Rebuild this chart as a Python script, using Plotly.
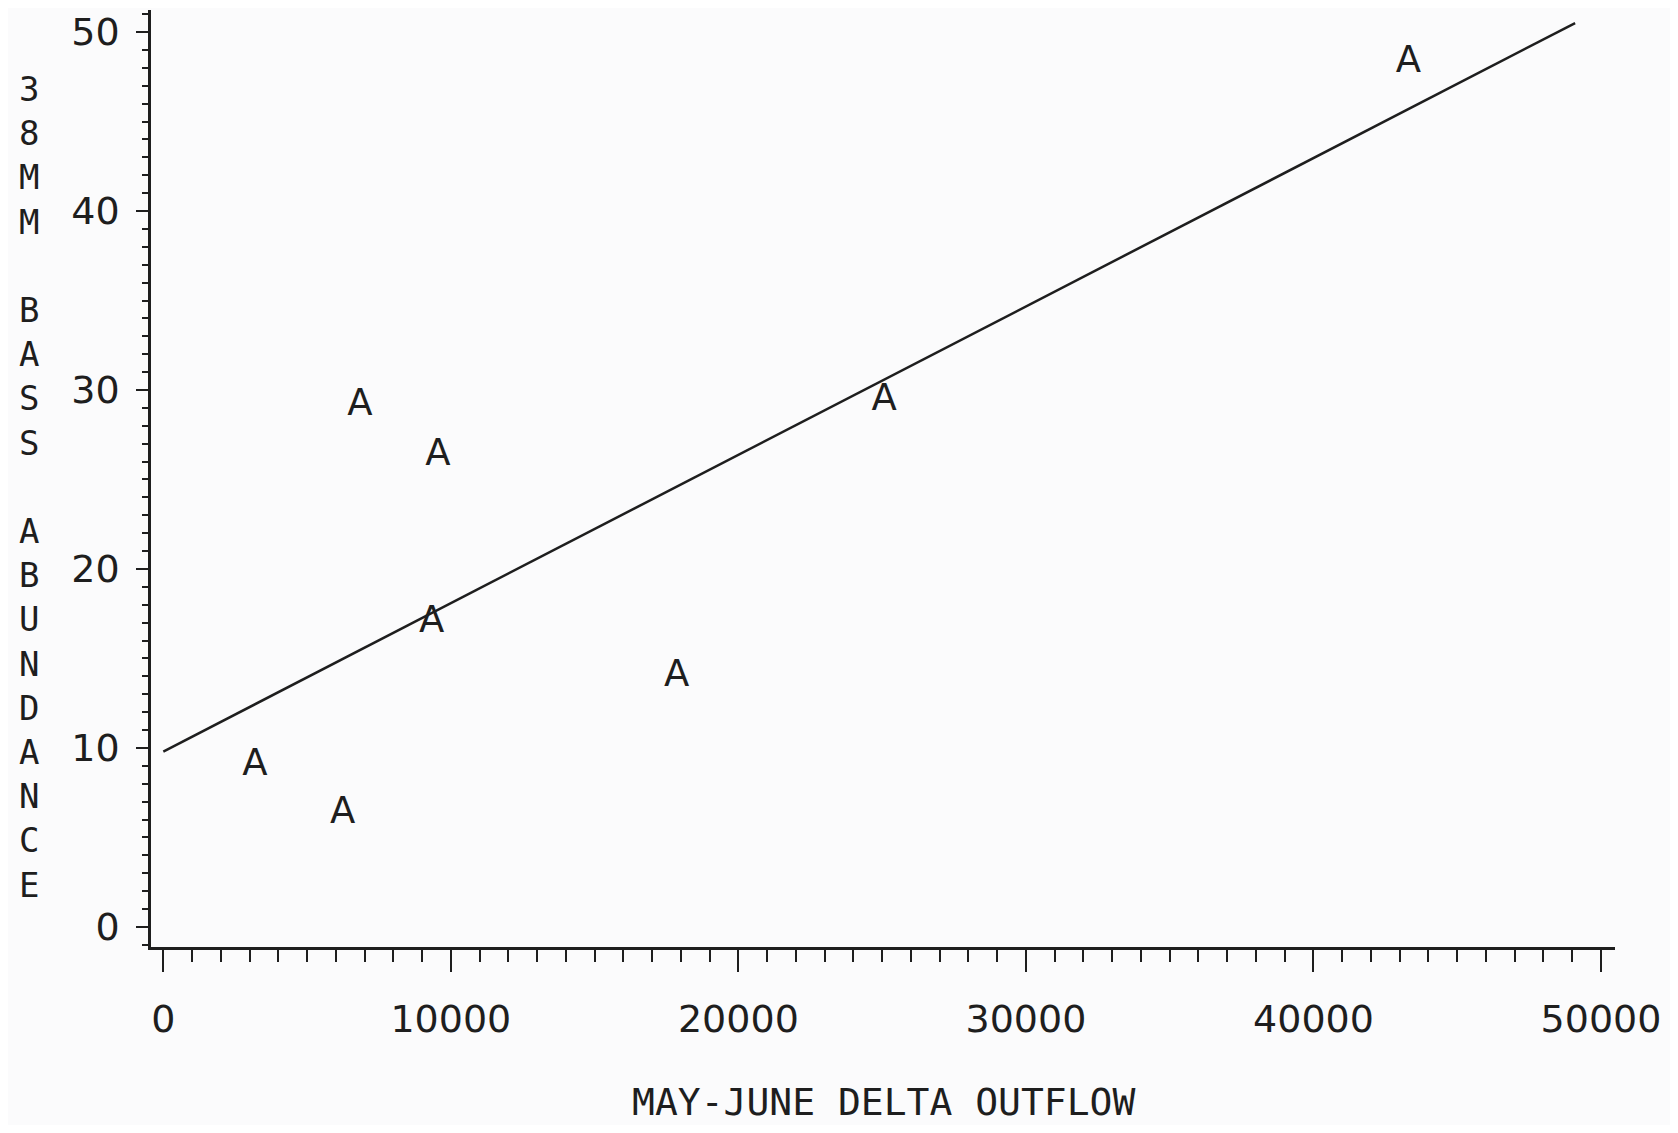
import plotly.graph_objects as go

# Data
outflow = [3190, 6240, 6840, 9550, 9330, 17850, 25070, 43300]
abundance = [9.0, 6.3, 29.1, 26.3, 17.0, 14.0, 29.4, 48.3]
point_label = "A"

fit_x = [0, 49100]
fit_y = [9.8, 50.5]

x_ticks = [0, 10000, 20000, 30000, 40000, 50000]
y_ticks = [0, 10, 20, 30, 40, 50]

x_title = "MAY-JUNE DELTA OUTFLOW"
y_title = "38MM BASS ABUNDANCE"

FONT = "DejaVu Sans, Verdana, sans-serif"
MONO = "DejaVu Sans Mono, Liberation Mono, monospace"
INK = "#1e1e1e"
BG = "#fbfbfc"

fig = go.Figure()

fig.add_trace(go.Scatter(
    x=fit_x, y=fit_y, mode="lines",
    line=dict(color=INK, width=2.5),
    hoverinfo="skip", showlegend=False,
))

fig.add_trace(go.Scatter(
    x=outflow, y=abundance, mode="text",
    text=[point_label] * len(outflow),
    textposition="middle center",
    textfont=dict(family=FONT, size=37, color=INK),
    showlegend=False,
))

fig.update_layout(
    width=1662, height=1117,
    margin=dict(l=143, r=55, t=2, b=178),
    paper_bgcolor=BG,
    plot_bgcolor=BG,
    font=dict(family=FONT, color=INK),
    xaxis=dict(
        range=[-428, 50487],
        tickvals=x_ticks,
        ticktext=[str(v) for v in x_ticks],
        ticks="outside", ticklen=22, tickwidth=2, tickcolor=INK,
        showline=True, linecolor=INK, linewidth=2.5,
        showgrid=False, zeroline=False,
        tickfont=dict(family=FONT, size=38, color=INK),
        ticklabelstandoff=15,
        minor=dict(dtick=1000, tick0=0, ticks="outside", ticklen=12,
                   tickwidth=2, tickcolor=INK, showgrid=False),
    ),
    yaxis=dict(
        range=[-1.12, 51.23],
        tickvals=y_ticks,
        ticktext=[str(v) for v in y_ticks],
        ticks="outside", ticklen=12, tickwidth=2, tickcolor=INK,
        showline=True, linecolor=INK, linewidth=2.5,
        showgrid=False, zeroline=False,
        tickfont=dict(family=FONT, size=38, color=INK),
        ticklabelstandoff=9,
        minor=dict(dtick=1, tick0=0, ticks="outside", ticklen=6,
                   tickwidth=2, tickcolor=INK, showgrid=False),
    ),
)

fig.add_annotation(
    text=x_title, xref="paper", yref="paper",
    x=0.5, y=-0.1654, xanchor="center", yanchor="middle",
    showarrow=False, font=dict(family=MONO, size=38, color=INK),
)

fig.add_annotation(
    text="<br>".join(ch if ch != " " else "\u00a0" for ch in y_title),
    xref="paper", yref="paper",
    x=0, y=0.491, xshift=-122, xanchor="center", yanchor="middle",
    showarrow=False, font=dict(family=MONO, size=34, color=INK),
)

fig.write_html("out.html")
